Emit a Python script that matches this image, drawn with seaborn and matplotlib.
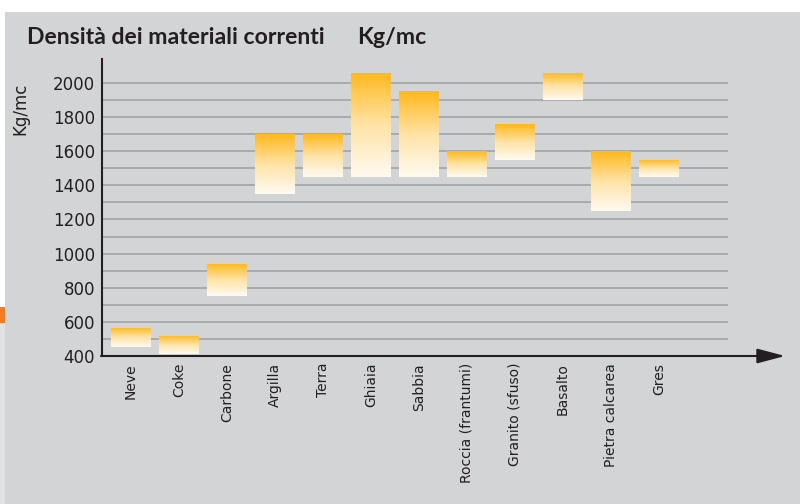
import matplotlib
matplotlib.use("Agg")
import matplotlib.pyplot as plt
import seaborn as sns
import numpy as np
from matplotlib.colors import LinearSegmentedColormap
from matplotlib.patches import Rectangle

# densita' (kg/mc): valore minimo e massimo per ogni materiale
materiali = ["Neve", "Coke", "Carbone", "Argilla", "Terra", "Ghiaia", "Sabbia",
             "Roccia (frantumi)", "Granito (sfuso)", "Basalto", "Pietra calcarea", "Gres"]
dens_min = [450, 410, 750, 1350, 1450, 1450, 1450, 1450, 1550, 1900, 1250, 1450]
dens_max = [565, 520, 940, 1700, 1700, 2060, 1950, 1600, 1760, 2060, 1600, 1550]
yticks = [400, 600, 800, 1000, 1200, 1400, 1600, 1800, 2000]
grid_vals = list(range(500, 2001, 100))

PANEL = "#d3d4d6"
INK = "#231f20"

sns.set_theme(style="white")
plt.rcParams["font.family"] = ["DejaVu Sans"]

fig = plt.figure(figsize=(8, 5.04), dpi=100)
fig.patch.set_facecolor("white")

# pannello grigio e striscia laterale
fig.patches.append(Rectangle((5 / 800, 0), 795 / 800, 492 / 504, transform=fig.transFigure,
                             facecolor=PANEL, edgecolor="none", zorder=-10))
fig.patches.append(Rectangle((0, 0), 5 / 800, 1 - 323 / 504, transform=fig.transFigure,
                             facecolor="#e1e2e4", edgecolor="none", zorder=-10))
fig.patches.append(Rectangle((0, 1 - 323 / 504), 5 / 800, 16 / 504, transform=fig.transFigure,
                             facecolor="#f47b20", edgecolor="none", zorder=-10))

ax = fig.add_axes([102 / 800, 1 - 356 / 504, 626 / 800, 297 / 504])
ax.set_facecolor("none")

spans = [hi - lo for lo, hi in zip(dens_min, dens_max)]
sns.barplot(x=materiali, y=spans, ax=ax, width=40 / 48, color="#ffb81c",
            linewidth=0, zorder=3)

cmap = LinearSegmentedColormap.from_list("grad", ["#fffaf2", "#ffe3a6", "#ffb81c"])
grad = np.linspace(0, 1, 256).reshape(-1, 1)
for patch, lo in zip(ax.patches, dens_min):
    patch.set_y(lo)
    x0, w, h = patch.get_x(), patch.get_width(), patch.get_height()
    patch.set_facecolor("none")
    im = ax.imshow(grad, cmap=cmap, origin="lower", aspect="auto",
                   extent=(x0, x0 + w, lo, lo + h), zorder=3, interpolation="bilinear")
    im.set_clip_path(patch)

ax.set_xlim((102 - 131) / 48, (728 - 131) / 48)
ax.set_ylim(400, 2140)

for g in grid_vals:
    ax.axhline(g, color="#a9aaac", lw=1.4, zorder=1)

ax.set_yticks(yticks)
ax.set_yticklabels([str(v) for v in yticks], fontsize=12, color=INK)
ax.tick_params(axis="y", length=0, pad=5)
ax.tick_params(axis="x", length=0, pad=5)
ax.set_xticks(range(len(materiali)))
ax.set_xticklabels(materiali, rotation=90, va="top", ha="center", fontsize=10,
                   color=INK)

for s in ["top", "right", "bottom"]:
    ax.spines[s].set_visible(False)
ax.spines["left"].set_color(INK)
ax.spines["left"].set_linewidth(1.5)

# asse x con freccia
ax.annotate("", xy=(785 / 800, 1 - 356 / 504), xycoords="figure fraction",
            xytext=(101 / 800, 1 - 356 / 504), textcoords="figure fraction",
            arrowprops=dict(arrowstyle="-|>,head_length=1.7,head_width=0.45",
                            mutation_scale=10, color=INK, lw=1.5,
                            shrinkA=0, shrinkB=0))

ax.set_ylabel("")
fig.text(20 / 800, 1 - 109 / 504, "Kg/mc", rotation=90, ha="center", va="center",
         fontsize=12, color=INK)

title_font = ["Lato", "DejaVu Sans"]
fig.text(27 / 800, 1 - 44 / 504, "Densità dei materiali correnti", ha="left",
         va="baseline", fontsize=16.6, fontweight="bold", color=INK, family=title_font)
fig.text(357 / 800, 1 - 44 / 504, "Kg/mc", ha="left", va="baseline",
         fontsize=16.6, fontweight="bold", color=INK, family=title_font)

fig.savefig("out.png", dpi=100)
